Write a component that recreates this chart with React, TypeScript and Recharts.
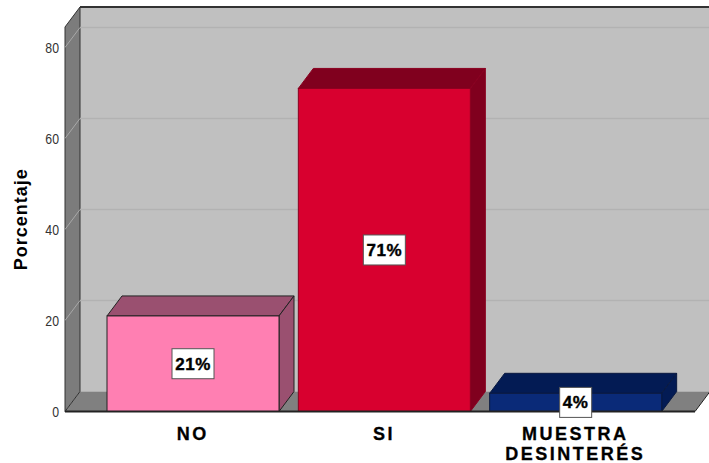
import { BarChart, Bar, XAxis, YAxis, ReferenceArea, LabelList, Label } from "recharts";

const categorias = ["NO", "SI", "MUESTRA DESINTERÉS"];
const porcentajes = [21, 71, 4];
const ticksY = [0, 20, 40, 60, 80];
const data = categorias.map((nombre, i) => ({ nombre, valor: porcentajes[i] }));

const frente = ["#ff7fb2", "#d8002f", "#0a2a78"];
const tapa = ["#9a5070", "#80001e", "#031b54"];
const borde = ["#222", "#8a0020", "#0a1a40"];

// desplazamiento de la perspectiva 3D
const DX = 15;
const DY = -20;
// bordes del area de trazado
const IZQ = 65;
const DER = 695;
const FUENTE = "'Liberation Sans', Arial, sans-serif";

function Paredes(props: any) {
  const { y, height } = props;
  const b = y + height;
  return (
    <g>
      <rect x={IZQ + DX} y={y + DY} width={DER - IZQ} height={height} fill="#c0c0c0" />
      <polygon
        points={`${IZQ},${b} ${IZQ + DX},${b + DY} ${DER + DX},${b + DY} ${DER},${b}`}
        fill="#808080"
      />
      <line x1={DER} y1={b} x2={DER + DX} y2={b + DY} stroke="#222" />
      <polygon
        points={`${IZQ},${y} ${IZQ + DX},${y + DY} ${IZQ + DX},${b + DY} ${IZQ},${b}`}
        fill="#7c7c7c"
        stroke="#333"
      />
      <line x1={IZQ + DX} y1={y + DY} x2={DER + DX} y2={y + DY} stroke="#333" strokeWidth={2} />
    </g>
  );
}

// linea de rejilla sobre las paredes, debajo de las barras
function LineaFondo(props: any) {
  const { y, height } = props;
  const yt = y + height;
  return (
    <g>
      <line x1={IZQ} y1={yt} x2={IZQ + DX} y2={yt + DY} stroke="#a8a8a8" />
      <line x1={IZQ + DX} y1={yt + DY} x2={DER + DX} y2={yt + DY} stroke="#b2b2b2" strokeWidth={1.5} />
    </g>
  );
}

function Barra3D(props: any) {
  const { x, y, width, height, index } = props;
  const r = x + width;
  const b = y + height;
  return (
    <g stroke={borde[index]} strokeWidth={1}>
      <polygon
        points={`${x},${y} ${x + DX},${y + DY} ${r + DX},${y + DY} ${r},${y}`}
        fill={tapa[index]}
      />
      <polygon
        points={`${r},${y} ${r + DX},${y + DY} ${r + DX},${b + DY} ${r},${b}`}
        fill={tapa[index]}
      />
      <rect x={x} y={y} width={width} height={height} fill={frente[index]} />
    </g>
  );
}

function Etiqueta(props: any) {
  const { x, y, width, height, value } = props;
  const cx = x + width / 2;
  const cy = y + height / 2;
  const w = value > 9 ? 42 : 32;
  return (
    <g>
      <rect x={cx - w / 2} y={cy - 15} width={w} height={30} fill="#fff" stroke="#555" />
      <text
        x={cx}
        y={cy + 6}
        textAnchor="middle"
        fontFamily={FUENTE}
        fontWeight="bold"
        fontSize={17}
        letterSpacing={0.5}
        stroke="#000"
        strokeWidth={0.4}
        fill="#000"
      >
        {value}%
      </text>
    </g>
  );
}

function TickX(props: any) {
  const { x, y, payload } = props;
  const palabras = String(payload.value).split(" ");
  return (
    <text
      x={x}
      textAnchor="middle"
      fontFamily={FUENTE}
      fontWeight="bold"
      fontSize={18}
      letterSpacing={2.5}
      stroke="#000"
      strokeWidth={0.3}
      fill="#000"
    >
      {palabras.map((p, i) => (
        <tspan key={p} x={x} y={y + 20 + i * 20}>
          {p}
        </tspan>
      ))}
    </text>
  );
}

// cifras estrechas como en el original
function TickY(props: any) {
  const { y, payload } = props;
  return (
    <text
      transform={`translate(59,${y + 5.5}) scale(0.82,1)`}
      textAnchor="end"
      fontFamily={FUENTE}
      fontSize={15}
      fill="#333"
    >
      {payload.value}
    </text>
  );
}

export default function App() {
  return (
    <div style={{ position: "absolute", left: 0, top: 0 }}>
      <BarChart
        width={709}
        height={463}
        data={data}
        margin={{ top: 27, right: 14, bottom: 0, left: 0 }}
      >
        <ReferenceArea y1={0} y2={84.5} ifOverflow="visible" shape={Paredes} />
        {ticksY.slice(1).map((t) => (
          <ReferenceArea key={t} y1={t} y2={t} ifOverflow="visible" shape={LineaFondo} />
        ))}
        <XAxis
          dataKey="nombre"
          axisLine={{ stroke: "#222", strokeWidth: 2 }}
          tickLine={false}
          padding={{ left: 32, right: 24 }}
          interval={0}
          height={51.5}
          tick={TickX}
        />
        <YAxis
          width={65}
          domain={[0, 84.5]}
          ticks={ticksY}
          axisLine={false}
          tickLine={false}
          tick={TickY}
        >
          <Label
            value="Porcentaje"
            angle={-90}
            position="insideLeft"
            offset={21}
            style={{
              fontFamily: FUENTE,
              fontWeight: "bold",
              fontSize: 18,
              letterSpacing: 1,
              fill: "#000",
              textAnchor: "middle",
            }}
          />
        </YAxis>
        <Bar dataKey="valor" barSize={172} shape={Barra3D} isAnimationActive={false}>
          <LabelList dataKey="valor" content={Etiqueta} />
        </Bar>
      </BarChart>
    </div>
  );
}
